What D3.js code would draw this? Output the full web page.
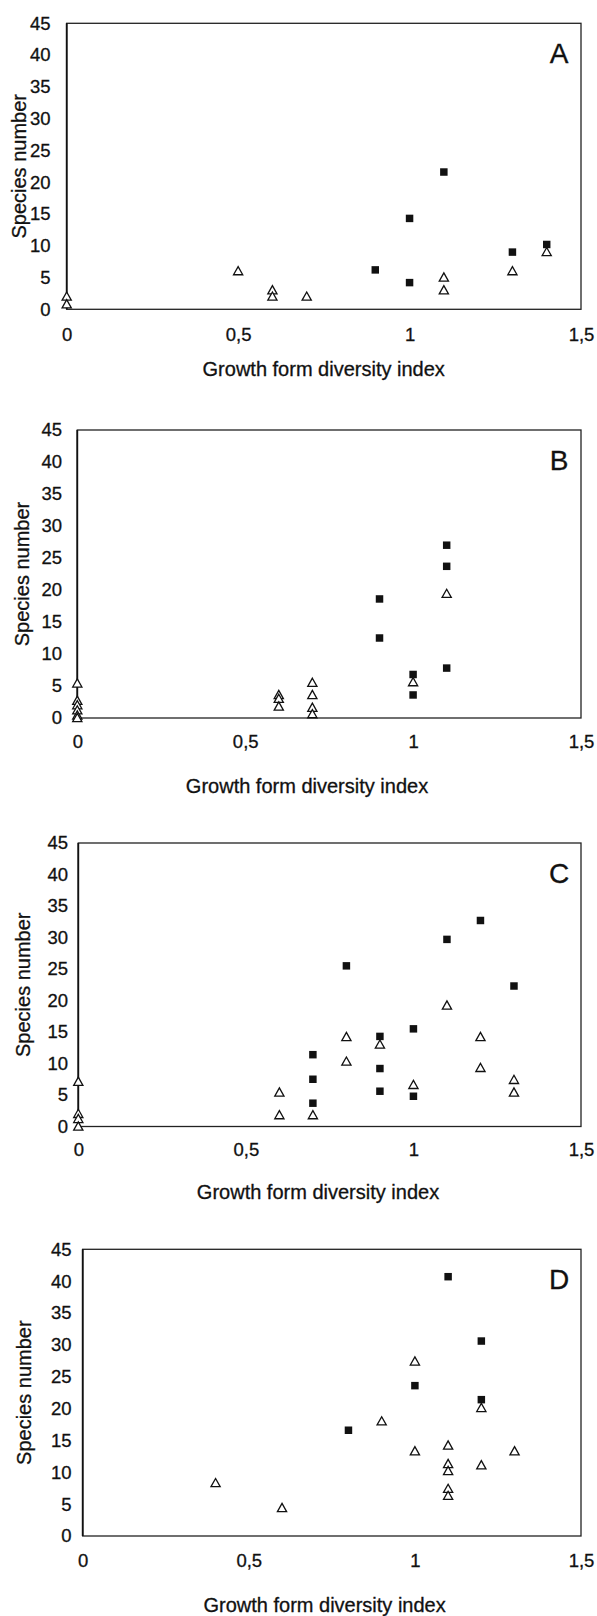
<!DOCTYPE html>
<html>
<head>
<meta charset="utf-8">
<script src="https://cdn.jsdelivr.net/npm/d3@7"></script>
<style>
body { margin: 0; background: #fff; }
svg { display: block; }
text { font-family: "Liberation Sans", Arial, sans-serif; fill: #111; stroke: #111; stroke-width: 0.3px; }
</style>
</head>
<body>
<div id="chart"></div>
<script>
// values: [growth form diversity index, species number]
var xTicks = [0, 0.5, 1, 1.5];
var yTicks = [0, 5, 10, 15, 20, 25, 30, 35, 40, 45];
var panelLetters = ["A", "B", "C", "D"];
var xTitle = "Growth form diversity index";
var yTitle = "Species number";

var aSquares = [[0.9, 6.2], [1.0, 14.3], [1.0, 4.2], [1.1, 21.6], [1.3, 9.0], [1.4, 10.2]];
var aTriangles = [[0, 2], [0, 0.8], [0.5, 6.0], [0.6, 3.0], [0.6, 2], [0.7, 2],
    [1.1, 5.0], [1.1, 3], [1.3, 6.0], [1.4, 9]];

var bSquares = [[0.9, 18.6], [0.9, 12.5], [1.0, 6.8], [1.0, 3.6], [1.1, 27.0], [1.1, 23.7], [1.1, 7.8]];
var bTriangles = [[0, 5.4], [0, 2.7], [0, 2], [0, 1.2], [0, 0.4], [0, 0],
    [0.6, 3.6], [0.6, 3.0], [0.6, 1.8], [0.7, 5.5], [0.7, 3.6], [0.7, 1.6], [0.7, 0.6],
    [1.0, 5.6], [1.1, 19.4]];

var cSquares = [[0.7, 11.4], [0.7, 7.5], [0.7, 3.7], [0.8, 25.5], [0.9, 14.3], [0.9, 9.2], [0.9, 5.6],
    [1.0, 15.5], [1.0, 4.8], [1.1, 29.7], [1.2, 32.7], [1.3, 22.3]];
var cTriangles = [[0, 7.1], [0, 2], [0, 1.2], [0, 0], [0.6, 5.4], [0.6, 1.8], [0.7, 1.8],
    [0.8, 14.2], [0.8, 10.3], [0.9, 13.0], [1.0, 6.6], [1.1, 19.2], [1.2, 14.2], [1.2, 9.3],
    [1.3, 7.4], [1.3, 5.4]];

var dSquares = [[0.8, 16.6], [1.0, 23.6], [1.1, 40.7], [1.2, 30.6], [1.2, 21.4]];
var dTriangles = [[0.4, 8.3], [0.6, 4.4], [0.9, 18.0], [1.0, 27.4], [1.0, 13.3],
    [1.1, 14.2], [1.1, 11.3], [1.1, 10.2], [1.1, 7.4], [1.1, 6.3],
    [1.2, 20.1], [1.2, 11.1], [1.3, 13.3]];

var svgWidth = 597;
var svgHeight = 1616;
var tickFont = 18.5;
var titleFont = 20;

// where each panel sits on the page
var panels = [
    {sq: aSquares, tri: aTriangles, left: 66.7, right: 581, top: 23.3, bottom: 309.3,
     tickRight: 50.5, yTitleX: 18.5, xLabelY: 334, xTitleX: 323.7, xTitleY: 369},
    {sq: bSquares, tri: bTriangles, left: 77.3, right: 581, top: 430, bottom: 718,
     tickRight: 62, yTitleX: 21.5, xLabelY: 741, xTitleX: 307, xTitleY: 786},
    {sq: cSquares, tri: cTriangles, left: 78.3, right: 581, top: 843, bottom: 1126.5,
     tickRight: 68, yTitleX: 22.5, xLabelY: 1149, xTitleX: 318, xTitleY: 1192},
    {sq: dSquares, tri: dTriangles, left: 82.7, right: 581, top: 1249.3, bottom: 1536,
     tickRight: 71.5, yTitleX: 24, xLabelY: 1560, xTitleX: 324.6, xTitleY: 1605}
];

var svg = d3.select("#chart")
    .append("svg")
    .attr("width", svgWidth)
    .attr("height", svgHeight);

var squareSym = d3.symbol().type(d3.symbolSquare).size(56);
var triPath = "M0,-4.6L4.6,3.6L-4.6,3.6Z";

panels.forEach(function(p, i) {
    var xScale = d3.scaleLinear().domain([0, 1.5]).range([p.left, p.right]);
    var yScale = d3.scaleLinear().domain([0, 45]).range([p.bottom, p.top]);
    var g = svg.append("g");

    // frame, left side drawn a little heavier as in the scan
    g.append("rect")
        .attr("x", p.left)
        .attr("y", p.top)
        .attr("width", p.right - p.left)
        .attr("height", p.bottom - p.top)
        .attr("fill", "none")
        .attr("stroke", "#222")
        .attr("stroke-width", 1.3);
    g.append("line")
        .attr("x1", p.left).attr("x2", p.left)
        .attr("y1", p.top).attr("y2", p.bottom)
        .attr("stroke", "#111")
        .attr("stroke-width", 1.8);

    var yAxisCall = d3.axisLeft(yScale)
        .tickValues(yTicks)
        .tickSize(0)
        .tickPadding(p.left - p.tickRight)
        .tickFormat(d => d);
    var yAxisGroup = g.append("g")
        .attr("transform", `translate(${p.left},0)`)
        .call(yAxisCall);
    yAxisGroup.select(".domain").remove();
    yAxisGroup.selectAll("text")
        .attr("font-size", tickFont + "px")
        .attr("font-family", null)
        .attr("fill", "#111");

    var xAxisCall = d3.axisBottom(xScale)
        .tickValues(xTicks)
        .tickSize(0)
        .tickFormat(d => String(d).replace(".", ","));
    var xAxisGroup = g.append("g")
        .attr("transform", `translate(0,${p.bottom})`)
        .call(xAxisCall);
    xAxisGroup.select(".domain").remove();
    xAxisGroup.selectAll("text")
        .attr("y", p.xLabelY - p.bottom)
        .attr("dy", "0.36em")
        .attr("font-size", tickFont + "px")
        .attr("font-family", null)
        .attr("fill", "#111");

    g.append("text")
        .attr("x", p.xTitleX)
        .attr("y", p.xTitleY)
        .attr("dy", "0.36em")
        .attr("text-anchor", "middle")
        .attr("font-size", titleFont + "px")
        .text(xTitle);

    g.append("text")
        .attr("transform", `translate(${p.yTitleX},${(p.top + p.bottom) / 2}) rotate(-90)`)
        .attr("dy", "0.36em")
        .attr("text-anchor", "middle")
        .attr("font-size", titleFont + "px")
        .text(yTitle);

    g.append("text")
        .attr("x", p.right - 22)
        .attr("y", p.top + 40)
        .attr("text-anchor", "middle")
        .attr("font-size", "28px")
        .text(panelLetters[i]);

    g.append("g").selectAll("path")
        .data(p.sq)
        .enter()
        .append("path")
        .attr("d", squareSym)
        .attr("transform", d => `translate(${xScale(d[0])},${yScale(d[1])})`)
        .attr("fill", "#111");

    g.append("g").selectAll("path")
        .data(p.tri)
        .enter()
        .append("path")
        .attr("d", triPath)
        .attr("transform", d => `translate(${xScale(d[0])},${yScale(d[1])})`)
        .attr("fill", "#fff")
        .attr("stroke", "#111")
        .attr("stroke-width", 1.3);
});
</script>
</body>
</html>
